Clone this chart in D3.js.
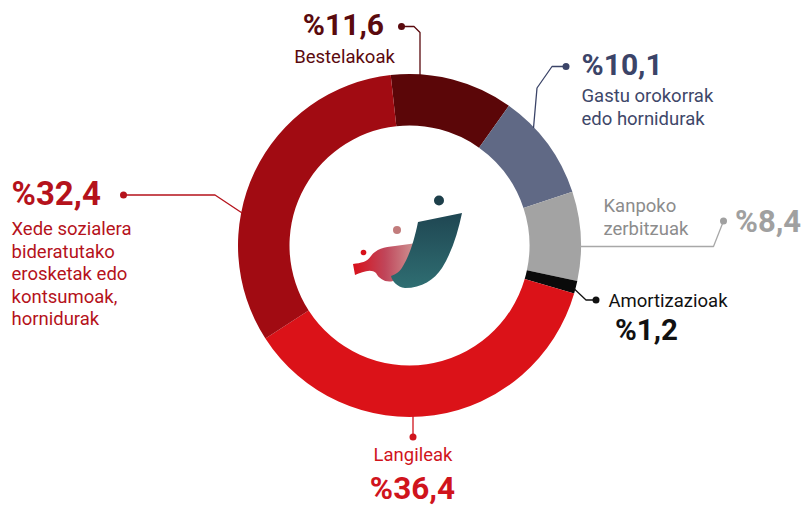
<!DOCTYPE html>
<html>
<head>
<meta charset="utf-8">
<script src="https://cdn.jsdelivr.net/npm/d3@7"></script>
<style>
  body { margin: 0; background: #fff; }
  text { font-family: Roboto, "Noto Sans", sans-serif; }
</style>
</head>
<body>
<div id="chart"></div>
<script>
// data, clockwise from the top
var categories = ["Bestelakoak", "Gastu orokorrak edo hornidurak", "Kanpoko zerbitzuak", "Amortizazioak", "Langileak", "Xede sozialera bideratutako erosketak edo kontsumoak, hornidurak"];
var values = [11.6, 10.1, 8.4, 1.2, 36.4, 32.4];
var pctLabels = ["%11,6", "%10,1", "%8,4", "%1,2", "%36,4", "%32,4"];
var nameLines = [
  ["Bestelakoak"],
  ["Gastu orokorrak", "edo hornidurak"],
  ["Kanpoko", "zerbitzuak"],
  ["Amortizazioak"],
  ["Langileak"],
  ["Xede sozialera", "bideratutako", "erosketak edo", "kontsumoak,", "hornidurak"]
];

var width = 803, height = 506;
var cx = 409.5, cy = 245.5, outerR = 171.5, innerR = 120;
var colors = ["#5b0608", "#606985", "#a3a3a3", "#0a0a0a", "#db1218", "#a10b12"];
var textColors = ["#5a0a0e", "#3e4769", "#8c8c8c", "#111111", "#d0141c", "#b5121b"];
var pctColors = ["#5a0a0e", "#3b4468", "#a0a0a0", "#111111", "#d0141c", "#b5121b"];

// label placement: number position, name position, dot and leader bend points
var layout = [
  {pct: [384, 35, "end", 30], name: [344.5, 63, "middle"], dot: [401.5, 26.5], path: [[414, 26.5], [420, 32.5]], edgeX: 420},
  {pct: [581.5, 75, "start", 30], name: [581.5, 101.5, "start"], dot: [566, 66.5], path: [[552, 66.5], [537, 88]], edgeX: 533.5},
  {pct: [735, 231.5, "start", 31], name: [603.5, 211.5, "start"], dot: [723.5, 221], path: [[713.5, 246.5]], edgeY: 246.5, side: 1},
  {pct: [615, 339.5, "start", 29.5], name: [608.5, 306.5, "start"], dot: [596, 300], path: [[586, 300]], edgeY: 289, side: 1},
  {pct: [412.5, 498.5, "middle", 31.5], name: [413, 461, "middle"], dot: [413, 437], path: [], edgeX: 413, bottom: true},
  {pct: [11.5, 205, "start", 33], name: [11.5, 235, "start"], dot: [123.5, 195], path: [[215, 195]], edgeY: 213, side: -1}
];
var lineH = 23.5;

var svg = d3.select("#chart").append("svg")
  .attr("width", width)
  .attr("height", height);

svg.append("rect").attr("width", width).attr("height", height).attr("fill", "#fff");

var a0 = -6.3 * Math.PI / 180;
var pie = d3.pie().sort(null).startAngle(a0).endAngle(a0 + 2 * Math.PI);
var arc = d3.arc().innerRadius(innerR).outerRadius(outerR);

var ring = svg.append("g").attr("transform", "translate(" + cx + "," + cy + ")");
ring.selectAll("path")
  .data(pie(values))
  .join("path")
  .attr("d", arc)
  .attr("fill", function(d, i) { return colors[i]; });

// point on the outer circle for a leader line
function edgePoint(l) {
  if (l.edgeX !== undefined) {
    var dy = Math.sqrt(outerR * outerR - (l.edgeX - cx) * (l.edgeX - cx));
    return [l.edgeX, l.bottom ? cy + dy - 1 : cy - dy + 1];
  }
  var dx = Math.sqrt(outerR * outerR - (l.edgeY - cy) * (l.edgeY - cy));
  return [cx + l.side * (dx - 1), l.edgeY];
}

var labels = svg.append("g");
layout.forEach(function(l, i) {
  var pts = [l.dot].concat(l.path).concat([edgePoint(l)]);
  labels.append("path")
    .attr("d", d3.line()(pts))
    .attr("fill", "none")
    .attr("stroke", i == 2 ? "#a8a8a8" : pctColors[i])
    .attr("stroke-width", 1.3)
    .attr("stroke-linejoin", "round");
  labels.append("circle")
    .attr("cx", l.dot[0]).attr("cy", l.dot[1]).attr("r", 3.5)
    .attr("fill", i == 2 ? "#a0a0a0" : pctColors[i]);

  labels.append("text")
    .attr("x", l.pct[0]).attr("y", l.pct[1])
    .attr("text-anchor", l.pct[2])
    .attr("font-size", l.pct[3])
    .attr("font-weight", 700)
    .attr("fill", pctColors[i])
    .text(pctLabels[i]);

  var t = labels.append("text")
    .attr("x", l.name[0]).attr("y", l.name[1])
    .attr("text-anchor", l.name[2])
    .attr("font-size", 18.5)
    .attr("fill", textColors[i]);
  nameLines[i].forEach(function(s, j) {
    t.append("tspan").attr("x", l.name[0]).attr("dy", j == 0 ? 0 : (i == 5 ? 22.5 : lineH)).text(s);
  });
});

// logo in the middle of the ring
var defs = svg.append("defs");
var g1 = defs.append("linearGradient").attr("id", "teal").attr("x1", 0).attr("y1", 0).attr("x2", 0).attr("y2", 1);
g1.append("stop").attr("offset", 0).attr("stop-color", "#1f4652");
g1.append("stop").attr("offset", 1).attr("stop-color", "#2f6e72");
var g2 = defs.append("linearGradient").attr("id", "rose").attr("x1", 0).attr("y1", 0).attr("x2", 1).attr("y2", 0);
g2.append("stop").attr("offset", 0).attr("stop-color", "#d8101a");
g2.append("stop").attr("offset", 0.5).attr("stop-color", "#c0465a");
g2.append("stop").attr("offset", 1).attr("stop-color", "#cf9a98");

var logo = svg.append("g");
logo.append("path")
  .attr("d", "M353,264 C361,263 367,262 371,256 C376,249 384,247 395,246 L417,243 L409,262 C403,270 397,278 393,281 C386,283 379,279 376,273 C371,268 362,272 355,275 Z")
  .attr("fill", "url(#rose)");
logo.append("path")
  .attr("d", "M418,222 L462,213 C458,232 452,252 442,268 C434,280 422,288 405,288 C397,287 392,281 391,276 C396,274 400,272 403,266 C409,256 414,242 418,222 Z")
  .attr("fill", "url(#teal)");
logo.append("circle").attr("cx", 439).attr("cy", 200.5).attr("r", 5).attr("fill", "#1d3f4a");
logo.append("circle").attr("cx", 397).attr("cy", 230).attr("r", 4).attr("fill", "#c27c7c");
logo.append("circle").attr("cx", 363.5).attr("cy", 252.5).attr("r", 2.8).attr("fill", "#d8101a");
</script>
</body>
</html>
